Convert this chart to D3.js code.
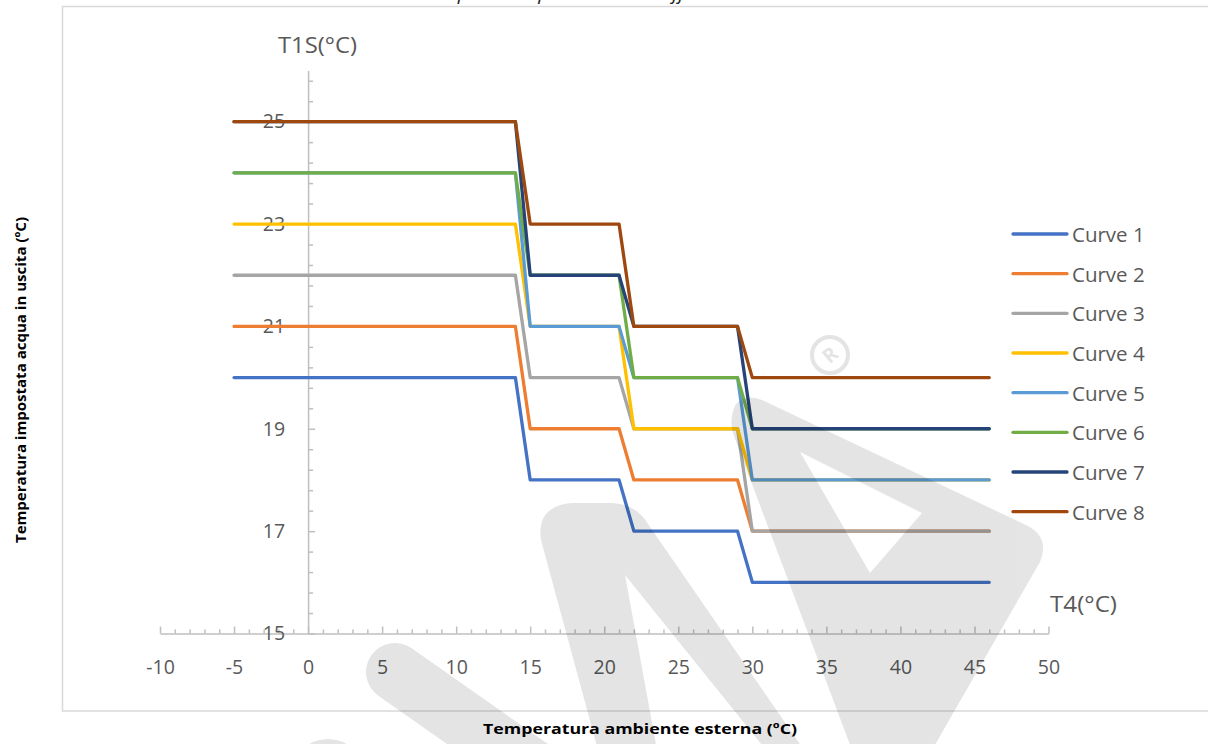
<!DOCTYPE html>
<html>
<head>
<meta charset="utf-8">
<script src="https://cdn.jsdelivr.net/npm/d3@7"></script>
<style>
  body { margin: 0; background: #fff; }
  svg { display: block; font-family: "Open Sans", sans-serif; }
</style>
</head>
<body>
<script>
// temperature breakpoints (T4) and set-point for each curve (T1S)
var tempEsterna = [-5, 14, 15, 21, 22, 29, 30, 46];
var curve1 = [20, 20, 18, 18, 17, 17, 16, 16];
var curve2 = [21, 21, 19, 19, 18, 18, 17, 17];
var curve3 = [22, 22, 20, 20, 19, 19, 17, 17];
var curve4 = [23, 23, 21, 21, 19, 19, 18, 18];
var curve5 = [24, 24, 21, 21, 20, 20, 18, 18];
var curve6 = [24, 24, 22, 22, 20, 20, 19, 19];
var curve7 = [25, 25, 22, 22, 21, 21, 19, 19];
var curve8 = [25, 25, 23, 23, 21, 21, 20, 20];
var seriesNames = ['Curve 1', 'Curve 2', 'Curve 3', 'Curve 4', 'Curve 5', 'Curve 6', 'Curve 7', 'Curve 8'];
var xTicks = [-10, -5, 0, 5, 10, 15, 20, 25, 30, 35, 40, 45, 50];
var yTicks = [15, 17, 19, 21, 23, 25];

var palette = ['#4472C4', '#ED7D31', '#A5A5A5', '#FFC000', '#5B9BD5', '#70AD47', '#264478', '#9E480E'];
var color = d3.scaleOrdinal().domain(seriesNames).range(palette);
var allCurves = [curve1, curve2, curve3, curve4, curve5, curve6, curve7, curve8];

var svg = d3.select('body').append('svg').attr('width', 1208).attr('height', 744);

// chart area border
svg.append('rect').attr('x', 62.5).attr('y', 6.5).attr('width', 1200).attr('height', 704.5)
  .attr('fill', 'none').attr('stroke', '#d9d9d9').attr('stroke-width', 1.5);

// title (cut off at the top in the original)
svg.append('text').attr('x', 350).attr('y', 0).attr('textLength', 440).attr('lengthAdjust', 'spacingAndGlyphs')
  .style('font-style', 'italic').style('font-size', '18px').attr('fill', '#222')
  .text('Curve di temperatura per modalità raffreddamento');

var x = d3.scaleLinear().domain([-10, 50]).range([160, 1048.5]);
var y = d3.scaleLinear().domain([15, 26]).range([633.5, 70.5]);
var plain = function(d){ return String(d); };

// x axis: minor + major ticks pointing up
var xMinor = d3.range(-10, 51, 1).filter(function(d){ return d % 5 !== 0; });
svg.append('g').attr('transform', 'translate(0,' + y(15) + ')')
  .call(d3.axisBottom(x).tickValues(xMinor).tickSize(-4).tickFormat(''))
  .call(function(g){ g.select('.domain').remove(); });
var gx = svg.append('g').attr('transform', 'translate(0,' + y(15) + ')')
  .call(d3.axisBottom(x).tickValues(xTicks).tickFormat(plain).tickSizeInner(-7).tickSizeOuter(0).tickPadding(27));

// y axis at x = 0, ticks pointing right
var yMinor = d3.range(0, 28).map(function(k){ return +(15 + k * 0.4).toFixed(1); })
  .filter(function(d){ return yTicks.indexOf(d) < 0; });
svg.append('g').attr('transform', 'translate(' + x(0) + ',0)')
  .call(d3.axisLeft(y).tickValues(yMinor).tickSize(-5).tickFormat(''))
  .call(function(g){ g.select('.domain').remove(); });
var gy = svg.append('g').attr('transform', 'translate(' + x(0) + ',0)')
  .call(d3.axisLeft(y).tickValues(yTicks).tickFormat(plain).tickSizeInner(-7).tickSizeOuter(0).tickPadding(23));

svg.selectAll('.tick line, .domain').attr('stroke', '#bfbfbf').attr('stroke-width', 1.5);
svg.selectAll('.tick text').attr('fill', '#595959').style('font-size', '19.5px')
  .style('font-family', '"Open Sans", sans-serif');

// axis unit labels
svg.append('text').attr('x', 278).attr('y', 53).attr('textLength', 79).attr('lengthAdjust', 'spacingAndGlyphs')
  .attr('fill', '#595959').style('font-size', '22px').text('T1S(°C)');
svg.append('text').attr('x', 1050).attr('y', 612).attr('textLength', 67).attr('lengthAdjust', 'spacingAndGlyphs')
  .attr('fill', '#595959').style('font-size', '22px').text('T4(°C)');

// axis titles
svg.append('text').attr('x', 640).attr('y', 734).attr('text-anchor', 'middle')
  .attr('textLength', 314).attr('lengthAdjust', 'spacingAndGlyphs')
  .style('font-weight', 'bold').style('font-size', '15px').attr('fill', '#000')
  .text('Temperatura ambiente esterna (ºC)');
svg.append('text').attr('transform', 'translate(26,380) rotate(-90)').attr('text-anchor', 'middle')
  .attr('textLength', 326).attr('lengthAdjust', 'spacingAndGlyphs')
  .style('font-weight', 'bold').style('font-size', '15px').attr('fill', '#000')
  .text('Temperatura impostata acqua in uscita (ºC)');

// curves
var line = d3.line().x(function(d){ return x(d[0]); }).y(function(d){ return y(d[1]); });
var gLines = svg.append('g');
allCurves.forEach(function(vals, i) {
  gLines.append('path')
    .datum(vals.map(function(v, j){ return [tempEsterna[j], v]; }))
    .attr('d', line)
    .attr('fill', 'none')
    .attr('stroke', color(seriesNames[i]))
    .attr('stroke-width', 3.3)
    .attr('stroke-linejoin', 'round')
    .attr('stroke-linecap', 'round');
});

// legend
var legend = svg.append('g').selectAll('g').data(seriesNames).enter().append('g')
  .attr('transform', function(d, i){ return 'translate(1013,' + (234 + i * 39.67) + ')'; });
legend.append('line').attr('x1', 0).attr('x2', 54).attr('y1', 0).attr('y2', 0)
  .attr('stroke', function(d){ return color(d); }).attr('stroke-width', 3.3).attr('stroke-linecap', 'round');
legend.append('text').attr('x', 59).attr('y', 8).attr('fill', '#595959')
  .style('font-size', '20.5px').text(function(d){ return d; });

// watermark overlay
var wm = svg.append('g').attr('opacity', 0.1).attr('pointer-events', 'none');
wm.append('circle').attr('cx', 328).attr('cy', 776).attr('r', 37).attr('fill', '#000');
wm.append('line').attr('x1', 395).attr('y1', 672).attr('x2', 580).attr('y2', 802)
  .attr('stroke', '#000').attr('stroke-width', 58).attr('stroke-linecap', 'round');
wm.append('path').attr('fill', '#000').attr('fill-rule', 'evenodd')
  .attr('d', 'M598,750 L541,540 Q536,506 572,503 L612,503 Q636,504 648,524 L804,750 Z M657,750 L625,575 L766,750 Z');
wm.append('path').attr('fill', '#000').attr('fill-rule', 'evenodd')
  .attr('d', 'M736,404 Q728,420 734,436 L852,750 L932,750 L1040,562 Q1050,538 1028,526 L762,400 Q746,394 736,404 Z M800,452 L922,513 L870,573 Z');
wm.append('circle').attr('cx', 830).attr('cy', 355).attr('r', 18)
  .attr('fill', 'none').attr('stroke', '#000').attr('stroke-width', 4);
wm.append('text').attr('transform', 'translate(830,355) rotate(-40)').attr('text-anchor', 'middle')
  .attr('dy', '0.35em').style('font-size', '20px').style('font-weight', 'bold').attr('fill', '#000').text('R');
</script>
</body>
</html>
